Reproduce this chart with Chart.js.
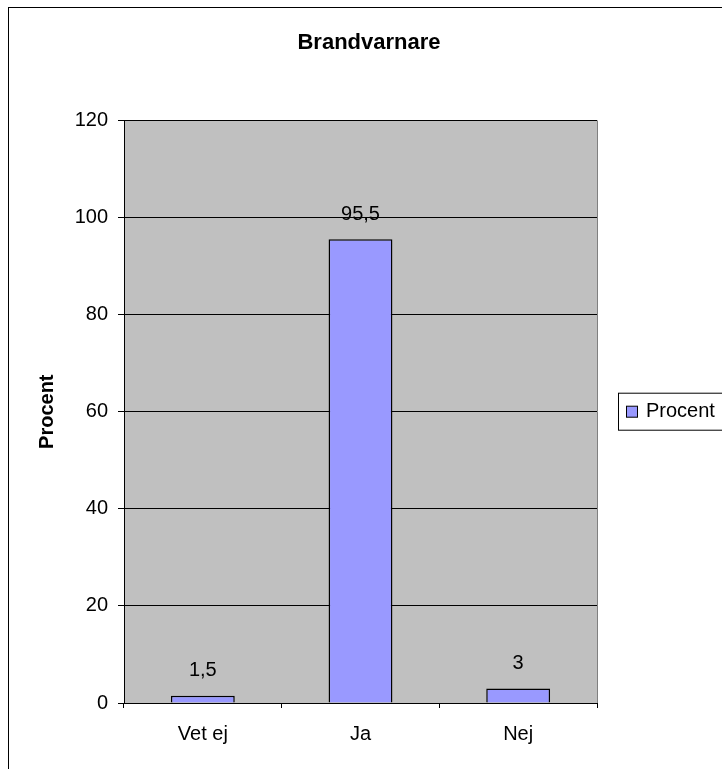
<!DOCTYPE html>
<html>
<head>
<meta charset="utf-8">
<script src="https://cdn.jsdelivr.net/npm/chart.js@4/dist/chart.umd.min.js"></script>
<style>
  html, body { margin: 0; padding: 0; background: #ffffff; }
  #wrap { width: 722px; height: 769px; }
</style>
</head>
<body>
<div id="wrap"><canvas id="c" width="722" height="769"></canvas></div>
<script>
const categories = ['Vet ej', 'Ja', 'Nej'];
const procentValues = [1.5, 95.5, 3];
const valueLabels = ['1,5', '95,5', '3'];
const yTicks = [0, 20, 40, 60, 80, 100, 120];

const FONT = "'Liberation Sans', Arial, sans-serif";
const BAR_COLOR = '#9999FF';

const decor = {
  id: 'decor',
  beforeDraw(chart) {
    const ctx = chart.ctx;
    const a = chart.chartArea;
    ctx.save();
    ctx.fillStyle = '#ffffff';
    ctx.fillRect(0, 0, chart.width, chart.height);
    ctx.fillStyle = '#C0C0C0';
    ctx.fillRect(a.left, a.top, a.right - a.left, a.bottom - a.top);
    ctx.restore();
  },
  afterDraw(chart) {
    const ctx = chart.ctx;
    const a = chart.chartArea;
    ctx.save();
    // outer chart border
    ctx.strokeStyle = '#000000';
    ctx.lineWidth = 1;
    ctx.strokeRect(8.5, 7.5, 730, 800);
    // plot area right border
    ctx.strokeStyle = '#808080';
    ctx.beginPath();
    ctx.moveTo(Math.round(a.right) + 0.5, a.top);
    ctx.lineTo(Math.round(a.right) + 0.5, a.bottom);
    ctx.stroke();
    // value labels above bars
    const meta = chart.getDatasetMeta(0);
    ctx.fillStyle = '#000000';
    ctx.font = '20px ' + FONT;
    ctx.textAlign = 'center';
    ctx.textBaseline = 'middle';
    meta.data.forEach((bar, i) => {
      ctx.fillText(valueLabels[i], bar.x, bar.y - 25);
    });
    // legend
    const ds = chart.data.datasets[0];
    const ly = (a.top + a.bottom) / 2;
    const lx = 618;
    ctx.strokeStyle = '#000000';
    ctx.lineWidth = 1;
    ctx.fillStyle = '#ffffff';
    ctx.fillRect(lx + 0.5, ly - 18.5, 130, 37);
    ctx.strokeRect(lx + 0.5, ly - 18.5, 130, 37);
    ctx.fillStyle = ds.backgroundColor;
    ctx.fillRect(lx + 8.5, ly - 5.5, 11, 11);
    ctx.strokeRect(lx + 8.5, ly - 5.5, 11, 11);
    ctx.fillStyle = '#000000';
    ctx.textAlign = 'left';
    ctx.textBaseline = 'middle';
    ctx.fillText(ds.label, lx + 28, ly);
    ctx.restore();
  }
};

new Chart(document.getElementById('c'), {
  type: 'bar',
  data: {
    labels: categories,
    datasets: [{
      label: 'Procent',
      data: procentValues,
      backgroundColor: BAR_COLOR,
      borderColor: '#000000',
      borderWidth: 1.5,
      barPercentage: 0.405,
      categoryPercentage: 1,
      yAxisID: 'y'
    }]
  },
  options: {
    responsive: false,
    devicePixelRatio: 1,
    animation: false,
    layout: { padding: { left: 8, right: -8, top: 7, bottom: 0 } },
    plugins: {
      legend: { display: false },
      tooltip: { enabled: false },
      title: {
        display: true,
        text: 'Brandvarnare',
        color: '#000000',
        font: { family: FONT, size: 22, weight: 'bold', lineHeight: 1.2 },
        padding: { top: 23, bottom: 64 }
      }
    },
    scales: {
      x: {
        type: 'category',
        offset: true,
        grid: { display: true, offset: true, drawOnChartArea: false, color: '#000000', tickLength: 5, tickColor: '#000000' },
        border: { display: true, color: '#000000', width: 1 },
        ticks: { color: '#000000', font: { family: FONT, size: 20 }, padding: 14, maxRotation: 0 },
        afterFit(s) { s.height = 66; }
      },
      y: {
        type: 'linear',
        position: 'left',
        min: 0,
        max: 120,
        afterBuildTicks(s) { s.ticks = yTicks.map(v => ({ value: v })); },
        grid: { color: '#000000', tickLength: 6, tickColor: '#000000' },
        border: { display: true, color: '#000000', width: 1 },
        ticks: { color: '#000000', font: { family: FONT, size: 20 }, padding: 10 },
        title: {
          display: true,
          text: 'Procent',
          color: '#000000',
          font: { family: FONT, size: 20, weight: 'bold', lineHeight: 1.2 },
          padding: { top: 27, bottom: 0 }
        },
        afterFit(s) { s.width = 116; }
      },
      yR: {
        type: 'linear',
        position: 'right',
        display: true,
        grid: { display: false },
        border: { display: false },
        ticks: { display: false },
        afterFit(s) { s.width = 133; }
      }
    }
  },
  plugins: [decor]
});
</script>
</body>
</html>
